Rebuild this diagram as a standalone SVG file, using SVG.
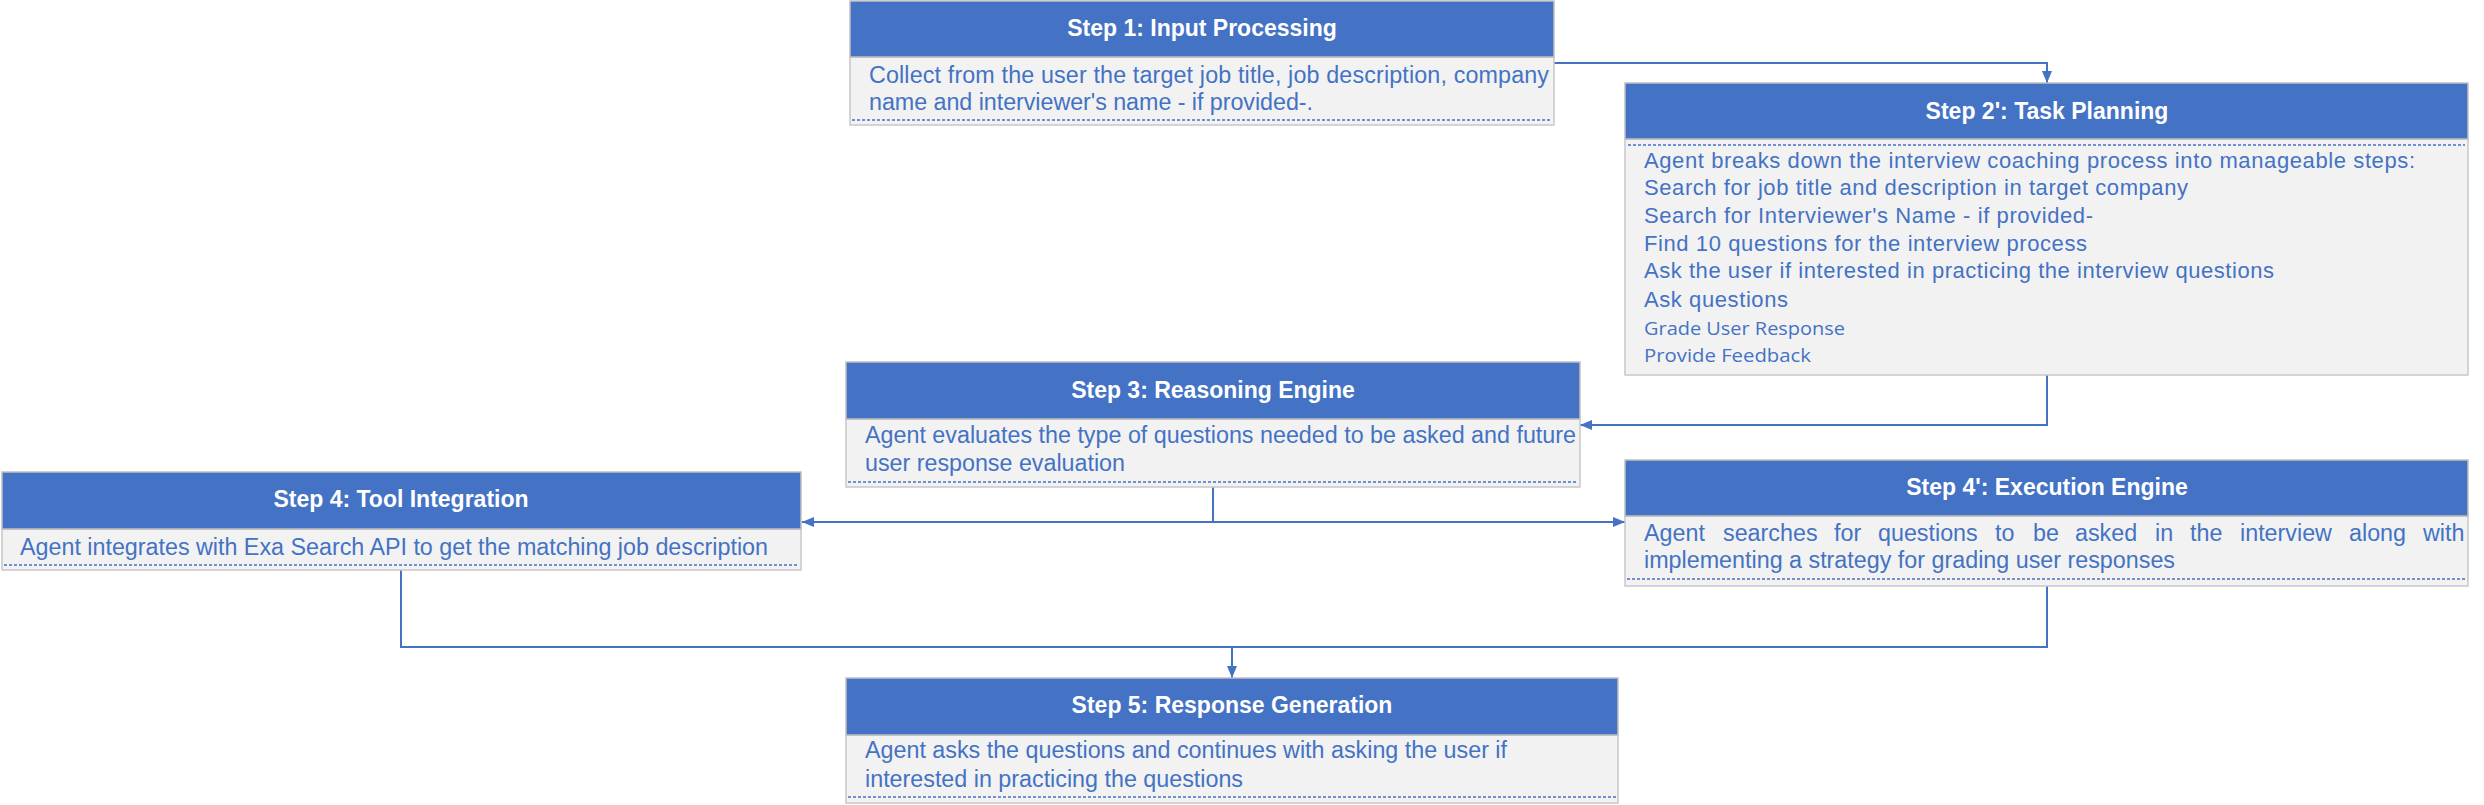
<svg xmlns="http://www.w3.org/2000/svg" width="2484" height="805" viewBox="0 0 2484 805">
<defs>
<style>
.hdr{fill:#4472C4;stroke:#C0C0C0;stroke-width:1.5}
.body{fill:#F2F2F2;stroke:#C8C8C8;stroke-width:1.5}
.title{font-family:"Liberation Sans",Arial,sans-serif;font-weight:bold;font-size:23px;fill:#FFFFFF;text-anchor:middle}
.txt{font-family:"Liberation Sans",Arial,sans-serif;font-size:23.3px;fill:#4472C4}
.txtp{font-family:"Liberation Sans",Arial,sans-serif;font-size:22px;fill:#4472C4}
.txt2{font-family:"Open Sans","Noto Sans",sans-serif;font-size:19px;fill:#4472C4}
.dot{stroke:#4472C4;stroke-width:1.5;stroke-dasharray:3 2;fill:none}
.conn{stroke:#4472C4;stroke-width:2;fill:none}
</style>
<marker id="arr" markerWidth="12" markerHeight="10" refX="12" refY="5" orient="auto" markerUnits="userSpaceOnUse">
<path d="M0,0 L12,5 L0,10 z" fill="#4472C4"/>
</marker>
</defs>
<rect width="2484" height="805" fill="#FFFFFF"/>

<g id="connectors">
<path class="conn" d="M1554,63 H2047 V83" marker-end="url(#arr)"/>
<path class="conn" d="M2047,375 V425 H1580" marker-end="url(#arr)"/>
<path class="conn" d="M1213,487 V522 H802" marker-end="url(#arr)"/>
<path class="conn" d="M1213,522 H1625" marker-end="url(#arr)"/>
<path class="conn" d="M401,570 V647 H1232 V678" marker-end="url(#arr)"/>
<path class="conn" d="M2047,586 V647 H1232"/>
</g>

<g id="step1">
<rect class="body" x="850" y="57" width="704" height="68"/>
<rect class="hdr" x="850" y="1" width="704" height="56"/>
<text class="title" x="1202" y="36">Step 1: Input Processing</text>
<text class="txt" x="869" y="83" textLength="680" lengthAdjust="spacing">Collect from the user the target job title, job description, company</text>
<text class="txt" x="869" y="110" textLength="444" lengthAdjust="spacing">name and interviewer's name - if provided-.</text>
<line class="dot" x1="852" y1="120" x2="1552" y2="120"/>
</g>

<g id="step2p">
<rect class="body" x="1625" y="139" width="843" height="236"/>
<rect class="hdr" x="1625" y="83" width="843" height="56"/>
<text class="title" x="2047" y="119">Step 2': Task Planning</text>
<line class="dot" x1="1628" y1="145" x2="2465" y2="145"/>
<text class="txtp" x="1644" y="168" textLength="771" lengthAdjust="spacing">Agent breaks down the interview coaching process into manageable steps:</text>
<text class="txtp" x="1644" y="195" textLength="544" lengthAdjust="spacing">Search for job title and description in target company</text>
<text class="txtp" x="1644" y="223" textLength="449" lengthAdjust="spacing">Search for Interviewer's Name - if provided-</text>
<text class="txtp" x="1644" y="251" textLength="443" lengthAdjust="spacing">Find 10 questions for the interview process</text>
<text class="txtp" x="1644" y="278" textLength="630" lengthAdjust="spacing">Ask the user if interested in practicing the interview questions</text>
<text class="txtp" x="1644" y="307" textLength="144" lengthAdjust="spacing">Ask questions</text>
<text class="txt2" x="1644" y="335" textLength="201" lengthAdjust="spacingAndGlyphs">Grade User Response</text>
<text class="txt2" x="1644" y="362" textLength="167" lengthAdjust="spacingAndGlyphs">Provide Feedback</text>
</g>

<g id="step3">
<rect class="body" x="846" y="419" width="734" height="68"/>
<rect class="hdr" x="846" y="362" width="734" height="57"/>
<text class="title" x="1213" y="398">Step 3: Reasoning Engine</text>
<text class="txt" x="865" y="443" textLength="711" lengthAdjust="spacing">Agent evaluates the type of questions needed to be asked and future</text>
<text class="txt" x="865" y="471" textLength="260" lengthAdjust="spacing">user response evaluation</text>
<line class="dot" x1="848" y1="482" x2="1578" y2="482"/>
</g>

<g id="step4">
<rect class="body" x="2" y="529" width="799" height="41"/>
<rect class="hdr" x="2" y="472" width="799" height="57"/>
<text class="title" x="401" y="507">Step 4: Tool Integration</text>
<text class="txt" x="20" y="555" textLength="748" lengthAdjust="spacing">Agent integrates with Exa Search API to get the matching job description</text>
<line class="dot" x1="4" y1="565" x2="799" y2="565"/>
</g>

<g id="step4p">
<rect class="body" x="1625" y="516" width="843" height="70"/>
<rect class="hdr" x="1625" y="460" width="843" height="56"/>
<text class="title" x="2047" y="495">Step 4': Execution Engine</text>
<text class="txt" y="541"><tspan x="1644">Agent</tspan><tspan x="1723">searches</tspan><tspan x="1834">for</tspan><tspan x="1878">questions</tspan><tspan x="1995">to</tspan><tspan x="2033">be</tspan><tspan x="2075">asked</tspan><tspan x="2155">in</tspan><tspan x="2190">the</tspan><tspan x="2240">interview</tspan><tspan x="2349">along</tspan><tspan x="2423">with</tspan></text>
<text class="txt" x="1644" y="568" textLength="531" lengthAdjust="spacing">implementing a strategy for grading user responses</text>
<line class="dot" x1="1627" y1="579" x2="2466" y2="579"/>
</g>

<g id="step5">
<rect class="body" x="846" y="735" width="772" height="68"/>
<rect class="hdr" x="846" y="678" width="772" height="57"/>
<text class="title" x="1232" y="713">Step 5: Response Generation</text>
<text class="txt" x="865" y="758" textLength="642" lengthAdjust="spacing">Agent asks the questions and continues with asking the user if</text>
<text class="txt" x="865" y="787" textLength="378" lengthAdjust="spacing">interested in practicing the questions</text>
<line class="dot" x1="848" y1="797" x2="1616" y2="797"/>
</g>
</svg>
